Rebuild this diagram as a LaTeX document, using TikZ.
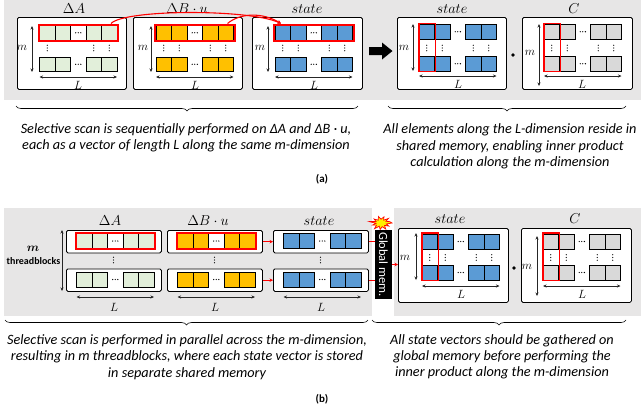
\documentclass[tikz,border=0pt]{standalone}
\usepackage{amsmath}
\usepackage{fontspec}
\setmainfont{Carlito}
\usetikzlibrary{arrows.meta,calc,decorations.pathreplacing}

\definecolor{bggray}{HTML}{E7E6E6}
\definecolor{cgreen}{HTML}{E2EFDA}
\definecolor{corange}{HTML}{FFC000}
\definecolor{cblue}{HTML}{5B9BD5}
\definecolor{cgray}{HTML}{D9D9D9}
\definecolor{hotred}{HTML}{FF0000}

% one row of five cells: x0, top y, fill, boxed middle cell (1/0), cell height
\newcommand\cellrow[5]{%
  \foreach \i in {0,1,3,4}{
    \draw[cellline,fill=#3] ({#1+\i*15.5},#2) rectangle ++(15.5,#5);}
  \ifnum#4=1 \draw[cellline,fill=white] ({#1+2*15.5},#2) rectangle ++(15.5,#5);\fi
  \fill ({#1+2.5*15.5-2.6},{#2+#5/2}) circle (0.65)
        ({#1+2.5*15.5},{#2+#5/2}) circle (0.65)
        ({#1+2.5*15.5+2.6},{#2+#5/2}) circle (0.65);
}
% vertical ellipsis centred at x,y
\newcommand\vdotsat[2]{%
  \fill (#1,{#2-2.8}) circle (0.65) (#1,#2) circle (0.65) (#1,{#2+2.8}) circle (0.65);}

\tikzset{
  cellline/.style={draw=black,line width=0.7bp},
  panel/.style={draw=black,line width=0.8bp,fill=white,rounded corners=1.5bp,
    inner sep=0pt,anchor=north west},
  redrow/.style={draw=hotred,line width=2bp,inner sep=0pt,
    minimum width=79.5bp,minimum height=16.5bp},
  redcol/.style={draw=hotred,line width=1.8bp},
  dimarrow/.style={{Stealth[length=3.5bp,width=3bp]}-{Stealth[length=3.5bp,width=3bp]},
    line width=0.6bp,draw=black!85},
  title/.style={font=\fontsize{13.5}{15}\selectfont,inner sep=0pt},
  lab/.style={font=\fontsize{12}{13}\selectfont,inner sep=0pt},
  caption/.style={font=\fontsize{14.3}{16.3}\selectfont\itshape,align=center,inner sep=0pt},
  sub/.style={font=\fontsize{11}{13}\selectfont\bfseries,inner sep=0pt},
  brc/.style={decorate,decoration={brace,amplitude=5bp},line width=0.6bp},
  redlink/.style={draw=hotred,line width=1.1bp},
  redarrow/.style={redlink,-{Stealth[length=3.5bp,width=3.5bp]}},
}

\begin{document}
\begin{tikzpicture}[x=1bp,y=-1bp]
\useasboundingbox (0,0) rectangle (644,412);

%% ---------------- (a) ----------------
\fill[bggray] (4,0) rectangle (641,100);

\node[panel,minimum width=109bp,minimum height=72bp] (aA) at (17,17) {};
\node[panel,minimum width=109bp,minimum height=72bp] (aB) at (133,17) {};
\node[panel,minimum width=110bp,minimum height=72bp] (aS) at (252,17) {};
\node[panel,minimum width=109bp,minimum height=72bp] (aS2) at (397,17) {};
\node[panel,minimum width=110bp,minimum height=72bp] (aC) at (522,17) {};

\node[title] (aAt) at (74,9) {$\Delta A$};
\node[title] (aBt) at (187,9) {$\Delta B\cdot u$};
\node[title] (aSt) at (307,9) {$state$};
\node[title] (aS2t) at (452,9) {$state$};
\node[title] (aCt) at (574,9) {$C$};

% sequential operands
\foreach \xo/\col/\nm/\xm in {39.5/cgreen/aAr/32, 156/corange/aBr/151, 275/cblue/aSr/268}{
  \cellrow{\xo}{25.5}{\col}{1}{14.5}
  \cellrow{\xo}{57}{\col}{0}{14.5}
  \node[redrow] (\nm) at ({\xo+38.75},32.75) {};
  \draw[dimarrow] (\xm,26) -- (\xm,72);
  \draw[dimarrow] (\xo,77) -- ({\xo+77.5},77);
}
\foreach \xo in {156, 275}{
  \foreach \k in {0,1,3,4}{\vdotsat{\xo+\k*15.5+7.75}{48}}
}
\foreach \k in {0,3,4}{\vdotsat{39.5+\k*15.5+7.75}{48}}

\node[lab] (aAm) at (22,48) {$m$};
\node[lab] (aBm) at (143,48) {$m$};
\node[lab] (aSm) at (260,48) {$m$};
\node[lab] (aAL) at (78,85) {$L$};
\node[lab] (aBL) at (195,85) {$L$};
\node[lab] (aSL) at (314,85) {$L$};

% scan dependencies
\draw[redarrow] ($(aAr.north east)+(-8,0)$) .. controls (125,9) and (250,9) .. ($(aSr.north west)+(8,0)$);
\draw[redarrow] ($(aBr.north east)+(-8,0)$) .. controls (240,13) and (262,12) .. ($(aSr.north west)+(8,0)$);

% transition arrow
\fill (369,47) -- (382,47) -- (382,42.5) -- (392.5,51) -- (382,59.5) -- (382,55) -- (369,55) -- cycle;

% inner product operands
\foreach \xo/\col in {419/cblue, 544/cgray}{
  \cellrow{\xo}{24.5}{\col}{0}{14.5}
  \cellrow{\xo}{56.5}{\col}{0}{14.5}
  \foreach \k in {0,1,3,4}{\vdotsat{\xo+\k*15.5+7.75}{48}}
  \draw[redcol] (\xo,23.5) rectangle ({\xo+16.5},71.5);
  \draw[dimarrow] (\xo,76) -- ({\xo+77.5},76);
}
\draw[dimarrow] (413,24) -- (413,71);
\draw[dimarrow] (539,24) -- (539,86);
\node[lab] (aS2m) at (404,48) {$m$};
\node[lab] (aCm) at (530,53) {$m$};
\node[lab] (aS2L) at (458,84) {$L$};
\node[lab] (aCL) at (582,84) {$L$};
\fill (513,55) circle (1.9);

\draw[brc] (358,106) -- (16,106);
\draw[brc] (626,106) -- (388,106);
\node[caption] (aTl) at (186,138) {Selective scan is sequentially performed on ΔA and ΔB · u,\\each as a vector of length L along the same m-dimension};
\node[caption] (aTr) at (510,146.5) {All elements along the L-dimension reside in\\shared memory, enabling inner product\\calculation along the m-dimension};
\node[sub] (aLab) at (322,179) {(a)};

%% ---------------- (b) ----------------
\fill[bggray] (4,208) rectangle (372,316);
\fill[bggray] (394,208) rectangle (641,316);

\node[panel,minimum width=95bp,minimum height=22.5bp] (bA1) at (66,230) {};
\node[panel,minimum width=95bp,minimum height=22.5bp] (bA2) at (66,268.5) {};
\node[panel,minimum width=95bp,minimum height=22.5bp] (bB1) at (167,230) {};
\node[panel,minimum width=95bp,minimum height=22.5bp] (bB2) at (167,268.5) {};
\node[panel,minimum width=95bp,minimum height=22.5bp] (bS1) at (273,230) {};
\node[panel,minimum width=95bp,minimum height=22.5bp] (bS2) at (273,268.5) {};

\node[title] (bAt) at (110,221) {$\Delta A$};
\node[title] (bBt) at (208,221) {$\Delta B\cdot u$};
\node[title] (bSt) at (319,221) {$state$};

\foreach \bx/\col in {66/cgreen, 167/corange, 273/cblue}{
  \cellrow{\bx+10.5}{272}{\col}{0}{15}
  \vdotsat{\bx+47.5}{260}
  \draw[dimarrow] ({\bx+10.5},297) -- ({\bx+88},297);
}
\cellrow{76.5}{233.5}{cgreen}{1}{15}
\cellrow{177.5}{233.5}{corange}{1}{15}
\cellrow{283.5}{233.5}{cblue}{0}{15}
\node[redrow] (bAr) at (115.25,241) {};
\node[redrow] (bBr) at (216.25,241) {};
\node[lab] (bAL) at (114,307) {$L$};
\node[lab] (bBL) at (215,307) {$L$};
\node[lab] (bSL) at (321,307) {$L$};

\draw[dimarrow] (62,230) -- (62,291);
\node[font=\fontsize{12}{13}\selectfont,inner sep=0pt] (bm) at (33,249) {$\boldsymbol{m}$};
\node[font=\fontsize{10}{12}\selectfont\bfseries,inner sep=0pt] (btb) at (33.5,261.5) {threadblocks};

% global memory staging
\node[fill=black,minimum width=17bp,minimum height=69bp,inner sep=0pt,
  text=white,font=\fontsize{12.5}{13}\selectfont] (gmem) at (383.5,264.5)
  {\rotatebox{-90}{Global mem.}};
\begin{scope}[shift={(381,223)},yscale=0.68]
  \filldraw[fill=yellow,draw=hotred,line width=0.7bp]
    (0:11) -- (15:5.5) -- (30:9) -- (45:5) -- (62:10) -- (78:5.5) -- (95:9.5)
    -- (110:5) -- (128:10.5) -- (145:5.5) -- (160:9) -- (175:5) -- (190:12)
    -- (205:5.5) -- (220:9) -- (237:5) -- (255:10) -- (270:5.5) -- (288:9.5)
    -- (303:5) -- (318:10) -- (333:5.5) -- (347:9) -- cycle;
\end{scope}

\draw[redarrow] (bB1.east) -- (bS1.west);
\draw[redarrow] (bB2.east) -- (bS2.west);
\draw[redlink] (bS1.east) -- (bS1.east -| gmem.west);
\draw[redlink] (bS2.east) -- (bS2.east -| gmem.west);

\node[panel,minimum width=110bp,minimum height=74bp] (bRS) at (398,228) {};
\node[panel,minimum width=110bp,minimum height=74bp] (bRC) at (521,228) {};
\draw[redarrow] (gmem.east) -- (gmem.east -| bRS.west);

\node[title] (bRSt) at (450,219) {$state$};
\node[title] (bRCt) at (575,219) {$C$};

\foreach \xo/\col in {422/cblue, 543/cgray}{
  \cellrow{\xo}{234}{\col}{0}{15}
  \cellrow{\xo}{265}{\col}{0}{15}
  \foreach \k in {0,1,3,4}{\vdotsat{\xo+\k*15.5+7.75}{257.5}}
  \draw[redcol] (\xo,233) rectangle ({\xo+16.5},280.5);
  \draw[dimarrow] (\xo,286) -- ({\xo+77.5},286);
}
\draw[dimarrow] (416,233) -- (416,280);
\draw[dimarrow] (537,236) -- (537,296);
\node[lab] (bRSm) at (405,258) {$m$};
\node[lab] (bRCm) at (527,267) {$m$};
\node[lab] (bRSL) at (461,294) {$L$};
\node[lab] (bRCL) at (582,294) {$L$};
\fill (514,268) circle (1.9);

\draw[brc] (368,320) -- (5,320);
\draw[brc] (626,320) -- (372,320);
\node[caption] (bTl) at (187,357) {Selective scan is performed in parallel across the m-dimension,\\resulting in m threadblocks, where each state vector is stored\\in separate shared memory};
\node[caption] (bTr) at (502,357) {All state vectors should be gathered on\\global memory before performing the\\inner product along the m-dimension};
\node[sub] (bLab) at (322,399) {(b)};
\end{tikzpicture}
\end{document}
